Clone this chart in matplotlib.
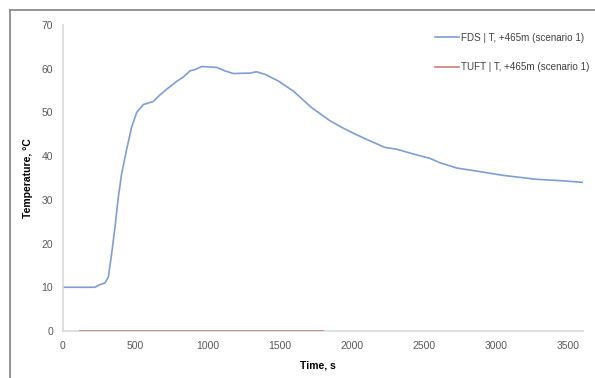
import matplotlib
matplotlib.use("Agg")
import matplotlib.pyplot as plt
from matplotlib.lines import Line2D
from matplotlib.font_manager import FontProperties

# FDS temperature history at +465 m (scenario 1)
fds_time = [0, 100, 220, 256, 291, 314, 337, 360, 383, 406, 441, 475, 510, 556,
            625, 671, 718, 787, 833, 879, 914, 960, 1064, 1121, 1179, 1294, 1340,
            1400, 1490, 1594, 1721, 1848, 1940, 2032, 2125, 2228, 2309, 2424,
            2540, 2609, 2724, 2840, 3047, 3278, 3439, 3600]
fds_temp = [10.0, 10.0, 10.0, 10.6, 11.0, 12.4, 17.7, 23.8, 30.6, 36.0, 41.6,
            46.6, 50.0, 51.8, 52.5, 54.0, 55.3, 57.1, 58.1, 59.5, 59.8, 60.5,
            60.3, 59.5, 58.9, 59.0, 59.3, 58.7, 57.2, 54.9, 51.1, 48.1, 46.4,
            44.9, 43.5, 42.0, 41.6, 40.5, 39.5, 38.5, 37.3, 36.7, 35.6, 34.7,
            34.4, 34.0]

# TUFT temperature history at +465 m (scenario 1)
tuft_time = [120, 600, 1200, 1800]
tuft_temp = [0.0, 0.0, 0.0, 0.0]

x_ticks = [0, 500, 1000, 1500, 2000, 2500, 3000, 3500]
y_ticks = [0, 10, 20, 30, 40, 50, 60, 70]

series_labels = ["FDS | T, +465m (scenario 1)", "TUFT | T, +465m (scenario 1)"]
blue = "#7F9ED3"
red = "#D07C7A"
tick_color = "#595959"
axis_color = "#D9D9D9"

plt.rcParams["font.family"] = ["Liberation Sans", "DejaVu Sans"]

fig = plt.figure(figsize=(5.95, 3.78), dpi=100)

# chart frame
fig.add_artist(Line2D([10 / 595, 1.0], [1 - 10 / 378, 1 - 10 / 378],
                      transform=fig.transFigure, color="#8C8C8C", lw=1.3))
fig.add_artist(Line2D([10 / 595, 10 / 595], [0.0, 1 - 10 / 378],
                      transform=fig.transFigure, color="#8C8C8C", lw=1.3))

left, right = 63 / 595, 583 / 595
top, bottom = 25 / 378, 331 / 378
ax = fig.add_axes([left, 1 - bottom, right - left, bottom - top])

ax.plot(fds_time, fds_temp, color=blue, lw=1.2, label=series_labels[0])
ax.plot(tuft_time, tuft_temp, color=red, lw=1.2, label=series_labels[1], zorder=3)

ax.set_xlim(0, 3600)
ax.set_ylim(0, 70)
ax.set_xticks(x_ticks)
ax.set_yticks(y_ticks)
ax.tick_params(axis="both", length=0, labelsize=7.5, colors=tick_color, pad=7)

for side in ("top", "right"):
    ax.spines[side].set_visible(False)
for side in ("left", "bottom"):
    ax.spines[side].set_color(axis_color)
    ax.spines[side].set_linewidth(1.2)

ax.set_xlabel("Time, s", fontsize=7.5, fontweight="bold", color="black")
ax.xaxis.set_label_coords(0.49, -0.095)
ax.set_ylabel("Temperature, °C", fontsize=7.5, fontweight="bold", color="black")
ax.yaxis.set_label_coords(-0.058, 0.5)

legend_font = FontProperties(family=["Liberation Sans Narrow", "Liberation Sans"],
                             size=7.1)
leg = ax.legend(loc="upper left", bbox_to_anchor=(0.715, 0.975), frameon=False,
                prop=legend_font, handlelength=2.5, handletextpad=0.2,
                labelspacing=2.0, labelcolor="#404040",
                borderaxespad=0, borderpad=0)

fig.savefig("out.png", dpi=100)
